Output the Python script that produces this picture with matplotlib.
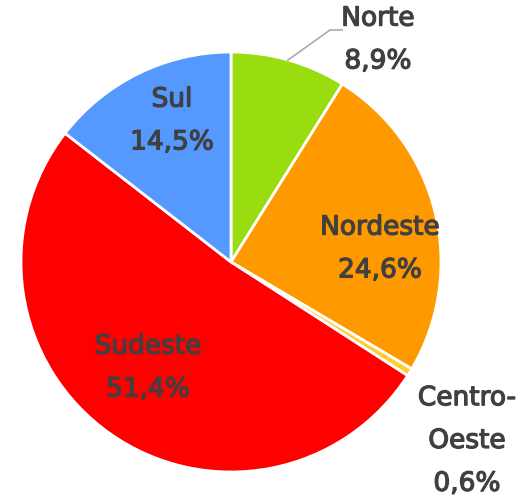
import matplotlib
matplotlib.use("Agg")
import matplotlib.pyplot as plt
import matplotlib.patheffects as pe

regions = ["Norte", "Nordeste", "Centro-\nOeste", "Sudeste", "Sul"]
shares = [8.9, 24.6, 0.6, 51.4, 14.5]
colors = ["#99dd11", "#ff9900", "#ffcc33", "#ff0000", "#5599ff"]

W, H = 525, 499
fig = plt.figure(figsize=(W / 100, H / 100), dpi=100)
cx, cy, R = 231, 262, 210
ax = fig.add_axes([(cx - R) / W, (H - cy - R) / H, 2 * R / W, 2 * R / H])
ax.pie(shares, colors=colors, startangle=90, counterclock=False, radius=1,
       wedgeprops=dict(edgecolor="white", linewidth=2))
ax.set_xlim(-1, 1)
ax.set_ylim(-1, 1)
ax.set_aspect("equal")
ax.axis("off")

# label positions (pixel centres in reference, converted to data units)
label_px = [(378, 40), (380, 249), (467, 441), (148, 368), (172, 121)]
txtcol = "#404040"
for name, val, (px, py) in zip(regions, shares, label_px):
    x = (px - cx) / R
    y = (cy - py) / R
    txt = f"{name}\n{val:.1f}%".replace(".", ",")
    ax.text(x, y, txt, ha="center", va="center", fontsize=19,
            color=txtcol, linespacing=1.84, clip_on=False,
            path_effects=[pe.withStroke(linewidth=0.9, foreground=txtcol)])

# leader line for Norte
p0 = ((288 - cx) / R, (cy - 60) / R)
p1 = ((330 - cx) / R, (cy - 30) / R)
p2 = ((342 - cx) / R, (cy - 30) / R)
ax.plot([p0[0], p1[0], p2[0]], [p0[1], p1[1], p2[1]], color="#aaaaaa",
        linewidth=1.2, clip_on=False)

fig.savefig("out.png", dpi=100)
